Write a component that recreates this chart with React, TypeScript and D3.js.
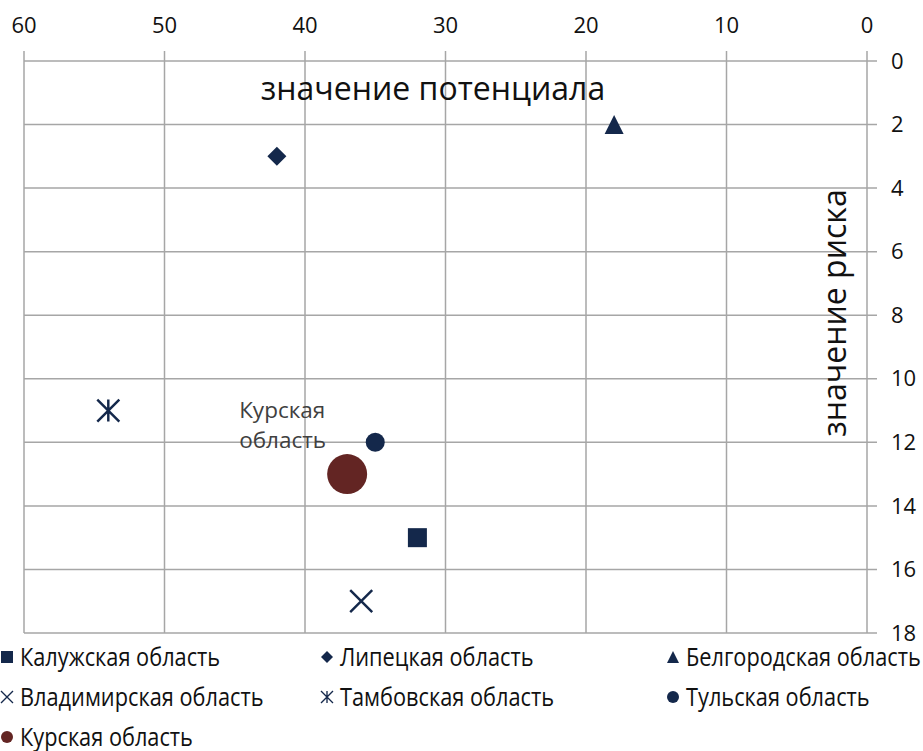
import { useRef, useEffect } from "react";
import * as d3 from "d3";

// values
const regions = [
  "Калужская область",
  "Липецкая область",
  "Белгородская область",
  "Владимирская область",
  "Тамбовская область",
  "Тульская область",
  "Курская область",
];
const potential = [32, 42, 18, 36, 54, 35, 37];
const risk = [15, 3, 2, 17, 11, 12, 13];
const xTicks = [60, 50, 40, 30, 20, 10, 0];
const yTicks = [0, 2, 4, 6, 8, 10, 12, 14, 16, 18];

const NAVY = "#14284b";
const KURSK = "#632523";
const GRID = "#a6a6a6";
const markers = ["square", "diamond", "triangle", "x", "asterisk", "circle", "bigcircle"];

// draw a marker of given kind centred at 0,0, size s
const drawMarker = (g: any, kind: string, s: number) => {
  const h = s / 2;
  if (kind === "square") {
    g.append("rect").attr("x", -h).attr("y", -h).attr("width", s).attr("height", s).attr("fill", NAVY);
  } else if (kind === "diamond") {
    g.append("path").attr("d", `M0,${-h}L${h},0L0,${h}L${-h},0Z`).attr("fill", NAVY);
  } else if (kind === "triangle") {
    g.append("path").attr("d", `M0,${-h}L${h},${h}L${-h},${h}Z`).attr("fill", NAVY);
  } else if (kind === "x") {
    g.append("path").attr("d", `M${-h},${-h}L${h},${h}M${h},${-h}L${-h},${h}`)
      .attr("stroke", NAVY).attr("stroke-width", Math.max(1.2, s / 9)).attr("fill", "none");
  } else if (kind === "asterisk") {
    g.append("path").attr("d", `M0,${-h}L0,${h}M${-h},${-h}L${h},${h}M${h},${-h}L${-h},${h}`)
      .attr("stroke", NAVY).attr("stroke-width", Math.max(1.2, s / 9)).attr("fill", "none");
  } else if (kind === "circle") {
    g.append("circle").attr("r", h).attr("fill", NAVY);
  } else {
    g.append("circle").attr("r", h).attr("fill", KURSK);
  }
};

const App = () => {
  const svgRef = useRef<SVGSVGElement | null>(null);
  const width = 923;
  const height = 751;

  useEffect(() => {
    if (!svgRef.current) return;
    document.body.style.margin = "0";
    const svg = d3.select(svgRef.current);
    svg.selectAll("*").remove();

    const x = d3.scaleLinear().domain([60, 0]).range([24, 867]);
    const y = d3.scaleLinear().domain([0, 18]).range([61, 633]);

    // gridlines
    const grid = svg.append("g");
    grid.selectAll(".vg").data(xTicks).enter().append("line")
      .attr("x1", d => x(d)).attr("x2", d => x(d))
      .attr("y1", y(0) - 10).attr("y2", y(18))
      .attr("stroke", GRID).attr("stroke-width", 1.5);
    grid.selectAll(".hg").data(yTicks).enter().append("line")
      .attr("x1", x(60)).attr("x2", x(0) + 10)
      .attr("y1", d => y(d)).attr("y2", d => y(d))
      .attr("stroke", GRID).attr("stroke-width", 1.5);

    // tick labels
    svg.append("g").selectAll("text").data(xTicks).enter().append("text")
      .attr("x", d => x(d)).attr("y", 33)
      .attr("text-anchor", "middle")
      .attr("font-family", "'Open Sans', sans-serif").attr("font-size", 22)
      .attr("fill", "#111").text(d => d);
    svg.append("g").selectAll("text").data(yTicks).enter().append("text")
      .attr("x", 891).attr("y", d => y(d)).attr("dy", "0.35em")
      .attr("font-family", "'Open Sans', sans-serif").attr("font-size", 22)
      .attr("fill", "#111").text(d => d);

    // axis titles
    svg.append("text").attr("x", 433).attr("y", 100).attr("text-anchor", "middle")
      .attr("font-family", "'Open Sans', sans-serif").attr("font-size", 32)
      .attr("fill", "#111").text("значение потенциала");
    svg.append("text").attr("transform", "translate(846,313) rotate(-90)")
      .attr("text-anchor", "middle")
      .attr("font-family", "'Open Sans', sans-serif").attr("font-size", 32)
      .attr("fill", "#111").text("значение риска");

    // points
    const pts = svg.append("g");
    regions.forEach((_, i) => {
      const g = pts.append("g").attr("transform", `translate(${x(potential[i])},${y(risk[i])})`);
      const kind = markers[i];
      const size = kind === "bigcircle" ? 40 : kind === "x" || kind === "asterisk" ? 22 : 19;
      drawMarker(g, kind, size);
    });

    // data label for Kursk
    const ki = regions.indexOf("Курская область");
    const lbl = svg.append("text")
      .attr("font-family", "'Open Sans', sans-serif").attr("font-size", 22.5).attr("fill", "#404040");
    lbl.append("tspan").attr("x", x(potential[ki]) - 108).attr("y", y(risk[ki]) - 56).text("Курская");
    lbl.append("tspan").attr("x", x(potential[ki]) - 108).attr("y", y(risk[ki]) - 26).text("область");

    // legend (condensed look: squeeze text horizontally)
    const cols = [7, 327, 673];
    const rows = [657, 697, 737];
    regions.forEach((name, i) => {
      const cx = cols[i % 3];
      const cy = rows[Math.floor(i / 3)];
      const g = svg.append("g").attr("transform", `translate(${cx},${cy})`);
      drawMarker(g, markers[i], 12);
      const t = g.append("text").attr("x", 13).attr("dy", "0.35em")
        .attr("font-family", "'Open Sans', sans-serif")
        .attr("font-size", 25).attr("fill", "#111").text(name);
      const node = t.node() as SVGTextElement;
      const len = node.getComputedTextLength();
      t.attr("textLength", len * 0.87).attr("lengthAdjust", "spacingAndGlyphs");
    });
  }, []);

  return (
    <svg ref={svgRef} width={width} height={height} viewBox={`0 0 ${width} ${height}`} style={{ display: "block", background: "#fff" }}></svg>
  );
};

export default App;
